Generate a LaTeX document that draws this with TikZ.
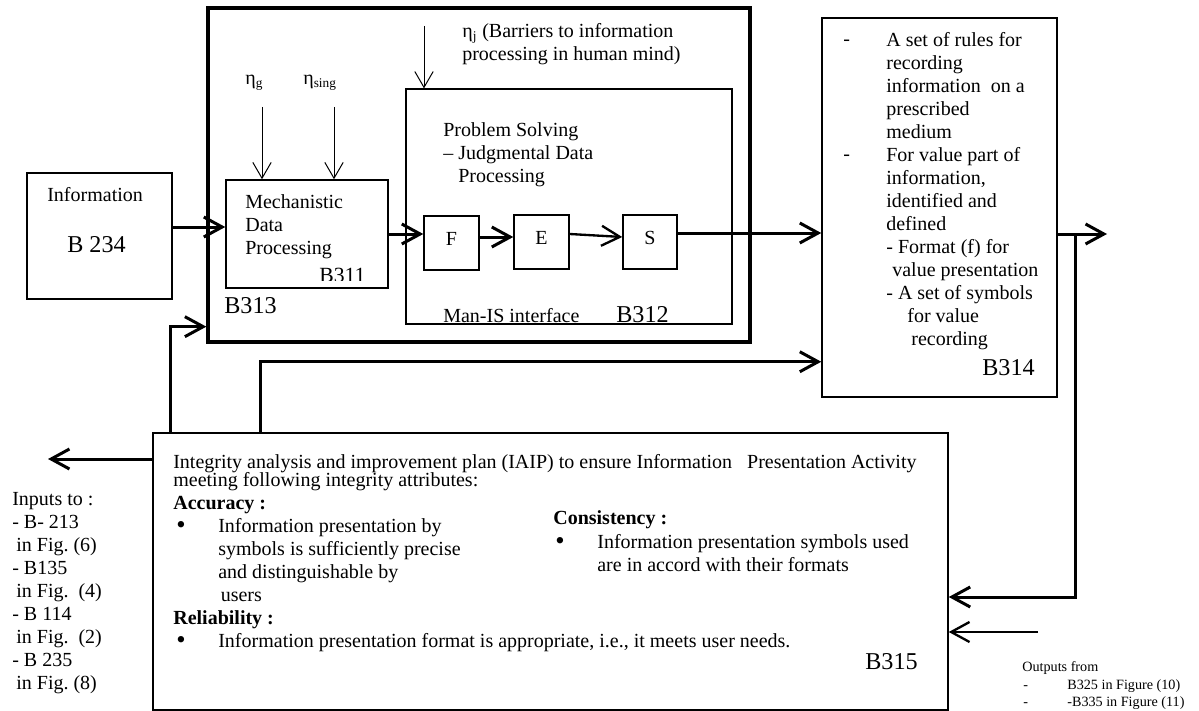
\documentclass[tikz,border=0pt]{standalone}
\usepackage{fontspec}
\setmainfont{Liberation Serif}
\usetikzlibrary{arrows.meta,calc,fit}
\frenchspacing

\tikzset{
  blk/.style={draw, line width=0.9pt, inner sep=0pt},
  txt/.style={anchor=base west, inner sep=0pt, align=left, font=\fontsize{12}{13.8}\selectfont},
  hd/.style={txt, font=\fontsize{12}{13.8}\selectfont\bfseries},
  big/.style={txt, font=\fontsize{14.5}{16}\selectfont},
  small/.style={txt, font=\fontsize{8.5}{10.5}\selectfont},
  dot/.style={txt, font=\fontsize{16}{16}\selectfont},
  thk/.style={line width=1.8pt, -{Straight Barb[length=11pt,width=12pt]}},
  thn/.style={line width=0.6pt, -{Straight Barb[length=9.5pt,width=11pt]}},
}

\begin{document}
\begin{tikzpicture}[x=0.6pt,y=-0.6pt]

  % page frame
  \useasboundingbox (0,0) rectangle (1199,711);

  % multi-line texts are placed at the baseline of their last line

  % Information input B234
  \node[blk, fit={(27,173) (172,299)}] (info) {};
  \node[txt] (infot) at (47,201) {Information};
  \node[big] (infoid) at (67,252) {B 234};

  % outer block B313
  \node[blk, line width=2pt, fit={(208,8) (750,342)}] (b313) {};
  \node[big] (b313id) at (224,313) {B313};

  % mechanistic data processing B311
  \node[blk, fit={(226,180) (388,288)}] (mdp) {};
  \node[txt] (mdpt) at (245,254) {Mechanistic\\Data\\Processing};
  \begin{scope}
    \clip (300,250) rectangle (388,280);
    \node[txt, font=\fontsize{13}{15}\selectfont] (b311id) at (319,282) {B311};
  \end{scope}

  % barriers on B311
  \node[txt] (etag) at (245,85) {η\textsubscript{g}};
  \node[txt] (etasing) at (303,85) {η\textsubscript{sing}};
  \coordinate (g0) at (262,107);
  \coordinate (s0) at (334,107);
  \draw[thn] (g0) -- (g0 |- mdp.north);
  \draw[thn] (s0) -- (s0 |- mdp.north);

  % man-IS interface B312
  \node[blk, line width=0.75pt, fit={(406,89) (732,324)}] (b312) {};
  \node[txt] (b312t) at (443,182) {Problem Solving\\– Judgmental Data\\\hspace{9pt}Processing};
  \node[txt] (mis) at (443,322) {Man-IS interface};
  \node[big] (b312id) at (616,322) {B312};
  \node[txt] (etaj) at (462,61) {η\textsubscript{j} (Barriers to information\\processing in human mind)};
  \coordinate (j0) at (424,26);
  \draw[thn] (j0) -- (j0 |- b312.north);

  % F, E, S
  \node[blk, fit={(424,216) (479,270)}] (F) {};
  \node[blk, fit={(514,215) (569,269)}] (E) {};
  \node[blk, fit={(623,215) (677,269)}] (S) {};
  \foreach \n in {F,E,S}
    \node[txt, anchor=base] (\n lab) at ($(\n.center)+(0,2)$) {\n};

  % recording rules B314
  \node[blk, fit={(822,18) (1057,397)}] (b314) {};
  \node[txt] (d1) at (843,46) {-};
  \node[txt] (b314a) at (886,138) {A set of rules for\\recording\\information\ \ on a\\prescribed\\medium};
  \node[txt] (d2) at (843,161) {-};
  \node[txt] (b314b) at (886,345) {For value part of\\information,\\identified and\\defined\\- Format (f) for\\\hspace{3.6pt}value presentation\\- A set of symbols\\\hspace{12.6pt}for value\\\hspace{15pt}recording};
  \node[big] (b314id) at (982,375) {B314};

  % integrity plan B315
  \node[blk, fit={(153,433) (948,710)}] (b315) {};
  \node[txt] (iaip) at (173,486) {Integrity analysis and improvement plan (IAIP) to ensure Information\ \ \ Presentation Activity\\[-3pt]meeting following integrity attributes:};
  \node[hd] (acc) at (173,509) {Accuracy :};
  \node[dot] (accb) at (176,533) {•};
  \node[txt] (acct) at (218,601) {Information presentation by\\symbols is sufficiently precise\\and distinguishable by\\\hspace{1.5pt}users};
  \node[hd] (rel) at (173,624) {Reliability :};
  \node[dot] (relb) at (176,648) {•};
  \node[txt] (relt) at (218,647) {Information presentation format is appropriate, i.e., it meets user needs.};
  \node[hd] (con) at (553,524) {Consistency :};
  \node[dot] (conb) at (555,549) {•};
  \node[txt] (cont) at (597,571) {Information presentation symbols used\\are in accord with their formats};
  \node[big] (b315id) at (865,669) {B315};

  % side notes
  \node[txt] (inputs) at (12,689) {Inputs to :\\- B- 213\\\hspace{2.4pt}in Fig. (6)\\- B135\\\hspace{2.4pt}in Fig.\ \ (4)\\- B 114\\\hspace{2.4pt}in Fig.\ \ (2)\\- B 235\\\hspace{2.4pt}in Fig. (8)};
  \node[small] (outs) at (1022,671) {Outputs from};
  \node[small] (outd) at (1023,706.5) {-\\-};
  \node[small] (outt) at (1067,706.5) {B325 in Figure (10)\\-B335 in Figure (11)};

  % main flow
  \draw[thk] ($(info.east)+(0,-9)$) -- ($(mdp.west)+(0,-7)$);
  \draw[thk] (mdp.east) -- (mdp.east -| F.west);
  \draw[thk] ($(F.east)+(0,-6)$) -- ($(E.west)+(0,-5)$);
  \draw[thk, line width=1.4pt] ($(E.east)+(0,-8)$) -- ($(S.west)+(0,-5)$);
  \draw[thk] ($(S.east)+(0,-9)$) -- ($(b314.west)+(0,25.5)$);

  % outputs of B314
  \coordinate (out) at (1107,234);
  \coordinate (tap) at (1075,234);
  \draw[thk] ($(b314.east)+(0,26.5)$) -- (out);
  \draw[thk] (tap) |- ($(b315.east)+(0,25.5)$);
  \coordinate (ext) at (1038,632);
  \draw[thk, line width=1.4pt] (ext) -- (ext -| b315.east);

  % feedback from B315
  \coordinate (lout) at (48,459);
  \draw[thk] (b315.west |- lout) -- (lout);
  \draw[thk] ($(b315.north west)+(18,0)$) |- ($(b313.south west)+(0,-17)$);
  \draw[thk] ($(b315.north west)+(108,0)$) |- ($(b314.south west)+(0,-36)$);

\end{tikzpicture}
\end{document}
